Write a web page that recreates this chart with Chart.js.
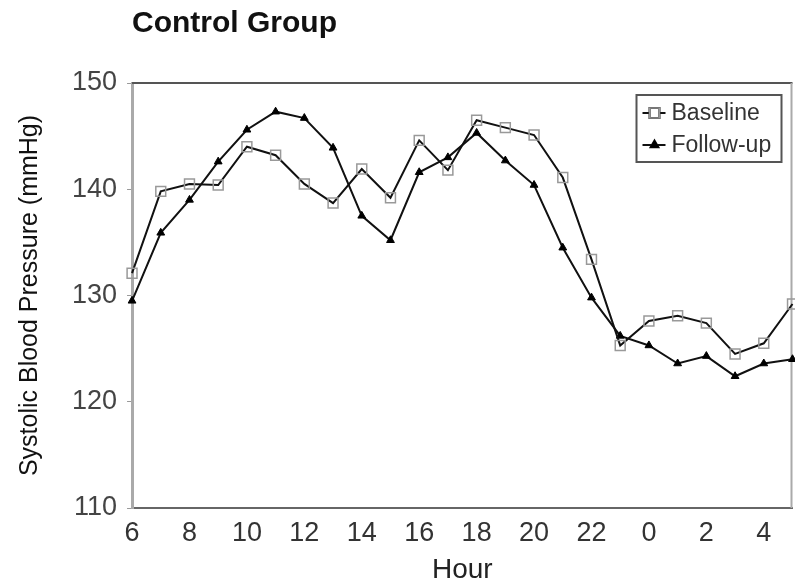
<!DOCTYPE html>
<html>
<head>
<meta charset="utf-8">
<title>Control Group</title>
<script src="https://cdn.jsdelivr.net/npm/chart.js"></script>
<style>
  html, body { margin: 0; background: #fff; overflow: hidden; }
  /* slightly wider than the window: the x scale keeps a strip on its right
     that we don't want, so it simply falls off the page */
  #wrap { position: relative; width: 805px; height: 586px; }
</style>
</head>
<body>
<div id="wrap"><canvas id="bpChart"></canvas></div>
<script>
// hour of day, 6 am through 5 am the next morning
const hours = [6, 7, 8, 9, 10, 11, 12, 13, 14, 15, 16, 17, 18, 19, 20, 21, 22, 23, 0, 1, 2, 3, 4, 5];

// mean systolic pressure (mmHg) per hour
const baseline = [132.1, 139.8, 140.5, 140.4, 144.0, 143.2, 140.5, 138.7, 141.9, 139.2, 144.6, 141.8,
                  146.5, 145.8, 145.1, 141.1, 133.4, 125.3, 127.6, 128.1, 127.4, 124.5, 125.5, 129.2];
const followUp = [129.5, 135.9, 139.0, 142.6, 145.6, 147.3, 146.7, 143.9, 137.5, 135.2, 141.6, 143.0,
                  145.3, 142.7, 140.4, 134.5, 129.8, 126.2, 125.3, 123.6, 124.3, 122.4, 123.6, 124.0];

const seriesNames = ['Baseline', 'Follow-up'];
const yMin = 110, yMax = 150, yStep = 10;

const FONT = "'Liberation Sans', Arial, sans-serif";

// frame: top and right edges of the plot box
const frame = {
  id: 'frame',
  beforeDatasetsDraw(chart) {
    const { ctx, chartArea: a } = chart;
    ctx.save();
    ctx.lineWidth = 2;
    ctx.strokeStyle = '#555';
    ctx.beginPath();
    ctx.moveTo(a.left, a.top);
    ctx.lineTo(a.right, a.top);
    ctx.stroke();
    ctx.strokeStyle = '#aaa';
    ctx.beginPath();
    ctx.moveTo(a.right - 1, a.top);
    ctx.lineTo(a.right - 1, a.bottom);
    ctx.stroke();
    ctx.restore();
  }
};

// boxed legend in the upper right corner, line through marker
const insetLegend = {
  id: 'insetLegend',
  afterDraw(chart) {
    const { ctx, chartArea: a } = chart;
    const w = 145, h = 67;
    const x0 = a.right - 11 - w, y0 = a.top + 12;
    ctx.save();
    ctx.fillStyle = '#fff';
    ctx.fillRect(x0, y0, w, h);
    ctx.lineWidth = 2;
    ctx.strokeStyle = '#555';
    ctx.strokeRect(x0, y0, w, h);
    chart.data.datasets.forEach((ds, i) => {
      const cy = y0 + 18 + i * 32;
      ctx.strokeStyle = ds.borderColor;
      ctx.lineWidth = 2;
      ctx.beginPath();
      ctx.moveTo(x0 + 6, cy);
      ctx.lineTo(x0 + 29, cy);
      ctx.stroke();
      Chart.helpers.drawPoint(ctx, {
        pointStyle: ds.pointStyle,
        radius: ds.pointRadius,
        borderWidth: ds.pointBorderWidth
      }, x0 + 18, cy);
      ctx.fillStyle = ds.pointBackgroundColor;
      ctx.strokeStyle = ds.pointBorderColor;
      ctx.lineWidth = ds.pointBorderWidth;
      ctx.fill();
      ctx.stroke();
      ctx.fillStyle = '#333';
      ctx.font = '23px ' + FONT;
      ctx.textBaseline = 'middle';
      ctx.fillText(ds.label, x0 + 35, cy + 1);
    });
    ctx.restore();
  }
};

new Chart(document.getElementById('bpChart'), {
  type: 'line',
  data: {
    labels: hours.map(String),
    datasets: [
      {
        label: seriesNames[0],
        data: baseline,
        borderColor: '#111',
        borderWidth: 2,
        pointStyle: 'rect',
        pointRadius: 7,
        pointBorderWidth: 1.5,
        pointBorderColor: '#999',
        pointBackgroundColor: 'rgba(255,255,255,0)',
        tension: 0
      },
      {
        label: seriesNames[1],
        data: followUp,
        borderColor: '#111',
        borderWidth: 2,
        pointStyle: 'triangle',
        pointRadius: 4.5,
        pointBorderWidth: 1,
        pointBorderColor: '#000',
        pointBackgroundColor: '#000',
        tension: 0
      }
    ]
  },
  options: {
    responsive: true,
    maintainAspectRatio: false,
    animation: false,
    layout: { autoPadding: false, padding: { top: 6, left: 15, right: 0, bottom: 0 } },
    plugins: {
      legend: { display: false },
      tooltip: { enabled: false },
      title: {
        display: true,
        text: 'Control Group',
        align: 'start',
        fullSize: false,
        color: '#111',
        font: { family: FONT, size: 30, weight: 'bold' },
        padding: { top: 0, bottom: 41 }
      }
    },
    scales: {
      x: {
        offset: false,
        grid: { display: false, drawTicks: false },
        border: { display: true, color: '#666', width: 2 },
        ticks: {
          autoSkip: false,
          maxRotation: 0,
          padding: 12.5,
          color: '#333',
          font: { family: FONT, size: 27, lineHeight: 1 },
          callback: (value, index) => index % 2 === 0 ? hours[index] : ''
        },
        title: {
          display: true,
          text: 'Hour',
          color: '#222',
          font: { family: FONT, size: 28, lineHeight: 1 },
          padding: { top: -4, bottom: 2 }
        }
      },
      y: {
        min: yMin,
        max: yMax,
        grid: { display: true, drawOnChartArea: false, drawTicks: true, tickLength: 5, color: '#999' },
        border: { display: true, color: '#aaa', width: 3 },
        ticks: {
          stepSize: yStep,
          padding: 10,
          color: '#444',
          font: { family: FONT, size: 27 }
        },
        title: {
          display: true,
          text: 'Systolic Blood Pressure (mmHg)',
          color: '#111',
          font: { family: FONT, size: 25 },
          padding: { top: 0, bottom: 17 }
        }
      }
    }
  },
  plugins: [frame, insetLegend]
});
</script>
</body>
</html>
